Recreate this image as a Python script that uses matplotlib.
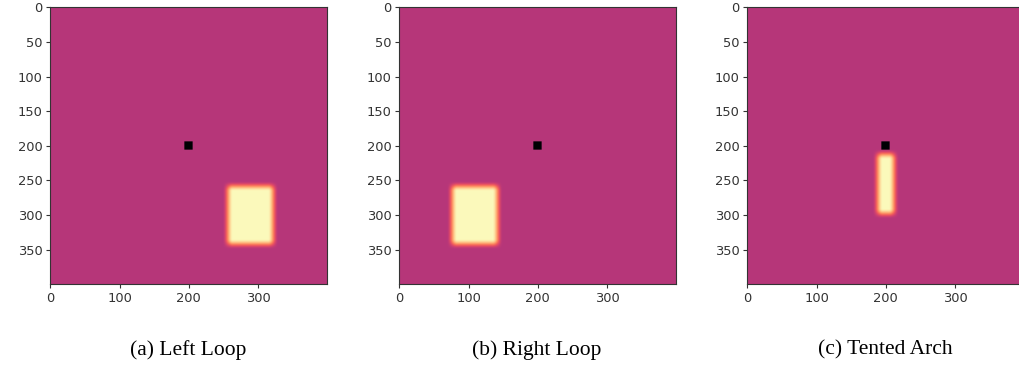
import numpy as np
import matplotlib
matplotlib.use("Agg")
import matplotlib.pyplot as plt

# image size and class panels
size = 400
captions = ["(a) Left Loop", "(b) Right Loop", "(c) Tented Arch"]
# bright region per panel: x0, x1, y0, y1 (data units)
blob_x0 = [256, 76, 188]
blob_x1 = [322, 142, 212]
blob_y0 = [258, 258, 212]
blob_y1 = [342, 342, 298]
# black core marker
core = [194, 206]
background = 0.5

xticks = [0, 100, 200, 300]
yticks = [0, 50, 100, 150, 200, 250, 300, 350]

yy, xx = np.mgrid[0:size, 0:size]


def soft_box(x0, x1, y0, y1, edge=15.0):
    gx = np.clip(np.minimum(xx - x0, x1 - xx) / edge + 0.5, 0, 1)
    gy = np.clip(np.minimum(yy - y0, y1 - yy) / edge + 0.5, 0, 1)
    gx = gx * gx * (3 - 2 * gx)
    gy = gy * gy * (3 - 2 * gy)
    return gx * gy


fig = plt.figure(figsize=(10.2, 3.78), dpi=100)
lefts = [50, 399, 747]
for i in range(3):
    img = background + 0.49 * soft_box(blob_x0[i], blob_x1[i], blob_y0[i], blob_y1[i])
    img[core[0]:core[1], core[0]:core[1]] = 0.0
    ax = fig.add_axes([lefts[i] / 1020, (378 - 284) / 378, 277 / 1020, 277 / 378])
    ax.imshow(img, cmap="magma", vmin=0, vmax=1, interpolation="bilinear")
    ax.set_xticks(xticks)
    ax.set_yticks(yticks)
    ax.tick_params(labelsize=9.4, length=3, width=0.8, pad=2.5,
                   colors="#333333", labelcolor="#333333")
    for s in ax.spines.values():
        s.set_color("#333333")
        s.set_linewidth(0.8)
    cx = (lefts[i] + 138) / 1020
    fig.text(cx, (378 - 350) / 378, captions[i], ha="center", va="center",
             fontsize=15.5, family="Liberation Serif")

fig.savefig("out.png", dpi=100)
